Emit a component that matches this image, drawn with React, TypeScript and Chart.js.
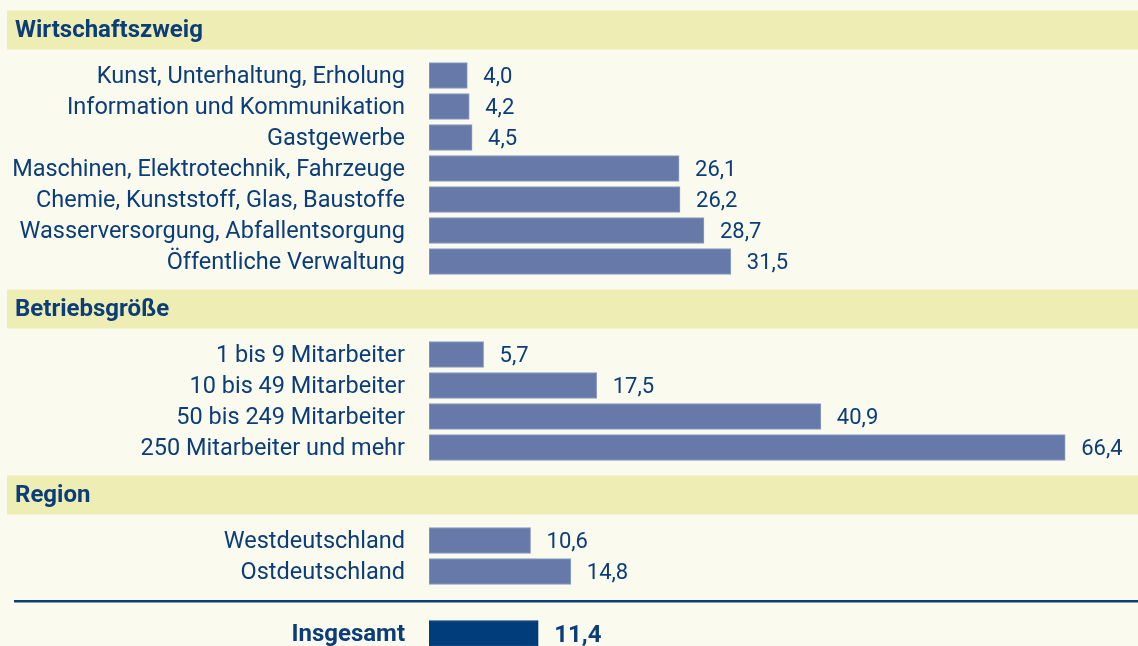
import React, { useEffect, useRef } from "react";
import { Chart, registerables } from "chart.js";

Chart.register(...registerables);

const groupTitles = ["Wirtschaftszweig", "Betriebsgröße", "Region"];

const sectorLabels = [
  "Kunst, Unterhaltung, Erholung",
  "Information und Kommunikation",
  "Gastgewerbe",
  "Maschinen, Elektrotechnik, Fahrzeuge",
  "Chemie, Kunststoff, Glas, Baustoffe",
  "Wasserversorgung, Abfallentsorgung",
  "Öffentliche Verwaltung",
];
const sectorValues = [4.0, 4.2, 4.5, 26.1, 26.2, 28.7, 31.5];

const sizeLabels = [
  "1 bis 9 Mitarbeiter",
  "10 bis 49 Mitarbeiter",
  "50 bis 249 Mitarbeiter",
  "250 Mitarbeiter und mehr",
];
const sizeValues = [5.7, 17.5, 40.9, 66.4];

const regionLabels = ["Westdeutschland", "Ostdeutschland"];
const regionValues = [10.6, 14.8];

const totalLabel = "Insgesamt";
const totalValue = 11.4;

const BG = "#fafaee";
const BAND = "#eeeeb4";
const TEXT = "#0b3d78";
const BAR = "#6679a9";
const BAR_BORDER = "#8c9cc4";
const TOTAL = "#003d7a";
const FONT = "Roboto";

function buildRows() {
  const labels: string[] = [];
  const values: (number | null)[] = [];
  const headers: { title: string; a: number; b: number }[] = [];
  const groups: [string, string[], number[]][] = [
    [groupTitles[0], sectorLabels, sectorValues],
    [groupTitles[1], sizeLabels, sizeValues],
    [groupTitles[2], regionLabels, regionValues],
  ];
  groups.forEach(([title, ls, vs]) => {
    const a = labels.length;
    labels.push("", "");
    values.push(null, null);
    headers.push({ title, a, b: a + 1 });
    ls.forEach((l, i) => {
      labels.push(l);
      values.push(vs[i]);
    });
  });
  const lineIndex = labels.length;
  labels.push("");
  values.push(null);
  const totalIndex = labels.length;
  labels.push(totalLabel);
  values.push(totalValue);
  return { labels, values, headers, lineIndex, totalIndex };
}

const fmt = (v: number) => v.toFixed(1).replace(".", ",");

export default function App() {
  const ref = useRef<HTMLCanvasElement>(null);
  useEffect(() => {
    const { labels, values, headers, lineIndex, totalIndex } = buildRows();
    const decor = {
      id: "decor",
      beforeDraw(chart: any) {
        const ctx = chart.ctx;
        const y = chart.scales.y;
        ctx.save();
        ctx.fillStyle = BG;
        ctx.fillRect(0, 0, chart.width, chart.height);
        headers.forEach((h) => {
          const mid = (y.getPixelForValue(h.a) + y.getPixelForValue(h.b)) / 2 + 1;
          ctx.fillStyle = BAND;
          ctx.fillRect(7, mid - 19.5, chart.width - 7, 39);
          ctx.fillStyle = TEXT;
          ctx.font = `bold 24px ${FONT}`;
          ctx.textAlign = "left";
          ctx.textBaseline = "middle";
          ctx.fillText(h.title, 15, mid + 1);
        });
        const ly = y.getPixelForValue(lineIndex) - 1.5;
        ctx.fillStyle = TEXT;
        ctx.fillRect(14, ly - 1, chart.width - 14, 2.5);
        ctx.restore();
      },
      afterDatasetsDraw(chart: any) {
        const ctx = chart.ctx;
        const meta = chart.getDatasetMeta(0);
        ctx.save();
        ctx.textAlign = "left";
        ctx.textBaseline = "middle";
        meta.data.forEach((el: any, i: number) => {
          const v = values[i];
          if (v == null) return;
          ctx.fillStyle = TEXT;
          ctx.font = i === totalIndex ? `bold 24px ${FONT}` : `22px ${FONT}`;
          ctx.fillText(fmt(v), el.x + 16, el.y + 2);
        });
        ctx.restore();
      },
    };
    const chart = new Chart(ref.current!, {
      type: "bar",
      data: {
        labels,
        datasets: [
          {
            data: values as any,
            backgroundColor: values.map((_, i) => (i === totalIndex ? TOTAL : BAR)),
            borderColor: values.map((_, i) => (i === totalIndex ? TOTAL : BAR_BORDER)),
            borderWidth: 1,
            borderSkipped: false,
            barThickness: 26,
          },
        ],
      },
      options: {
        indexAxis: "y",
        animation: false,
        responsive: false,
        devicePixelRatio: 1,
        layout: { padding: 0 },
        plugins: { legend: { display: false }, tooltip: { enabled: false } },
        scales: {
          x: { display: false, min: 0, max: 74 },
          y: {
            grid: { display: false, drawTicks: false },
            border: { display: false },
            afterFit: (s: any) => {
              s.width = 429;
              s.paddingTop = 0;
              s.paddingBottom = 0;
            },
            ticks: {
              padding: 24,
              labelOffset: 1.5,
              color: TEXT,
              autoSkip: false,
              font: (c: any) =>
                c.index === totalIndex
                  ? { family: FONT, size: 24, weight: "bold" }
                  : { family: FONT, size: 23.5 },
            },
          },
        },
      },
      plugins: [decor],
    });
    return () => chart.destroy();
  }, []);
  return (
    <div
      style={{
        position: "fixed",
        left: 0,
        top: -2,
        width: 1138,
        height: 651,
        background: BG,
      }}
    >
      <canvas ref={ref} width={1138} height={651} />
    </div>
  );
}
